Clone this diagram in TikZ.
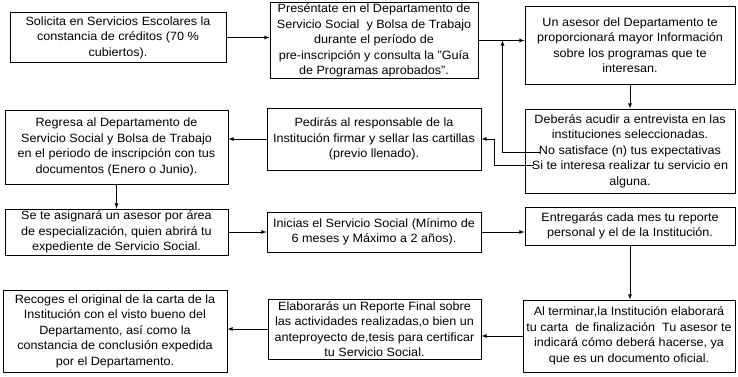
\documentclass[tikz,border=0pt]{standalone}
\usepackage{fontspec}
\setmainfont{Liberation Sans}[FakeStretch=1.05]
\usetikzlibrary{positioning}

\tikzset{
  paso/.style={draw, line width=0.9pt, align=center, inner sep=1.5pt,
    font=\fontsize{12}{15.5}\selectfont},
  flecha/.style={line width=0.8pt, ->, >=latex},
}

\begin{document}
\begin{tikzpicture}[x=1pt,y=-1pt]
  \useasboundingbox (0,0) rectangle (738,377);
  % primera fila
  \node[paso, minimum width=216pt, minimum height=50pt] (solicita) at (118,37.5)
    {Solicita en Servicios Escolares la\\ constancia de créditos (70 \%\\ cubiertos).};
  \node[paso, minimum width=208pt, minimum height=75pt] (presentate) at (374,40.5)
    {Preséntate en el Departamento de\\ Servicio Social\ \ y Bolsa de Trabajo\\
     durante el período de\\ pre-inscripción y consulta la "Guía\\ de Programas aprobados".};
  \node[paso, minimum width=210pt, minimum height=78pt] (asesor) at (630,45)
    {Un asesor del Departamento te\\ proporcionará mayor Información\\
     sobre los programas que te\\ interesan.};
  \node[paso, minimum width=210pt, minimum height=84pt] (entrevista) at (630,151)
    {Deberás acudir a entrevista en las\\ instituciones seleccionadas.\\
     No satisface (n) tus expectativas\\ Si te interesa realizar tu servicio en\\ alguna.};
  % segunda fila
  \node[paso, minimum width=223pt, minimum height=74pt] (regresa) at (116.5,147)
    {Regresa al Departamento de\\ Servicio Social y Bolsa de Trabajo\\
     en el periodo de inscripción con tus\\ documentos (Enero o Junio).};
  \node[paso, minimum width=214pt, minimum height=62pt] (pedir) at (374,139)
    {Pedirás al responsable de la\\ Institución firmar y sellar las cartillas\\ (previo llenado).};
  % tercera fila
  \node[paso, minimum width=223pt, minimum height=46pt] (area) at (116.5,232)
    {Se te asignará un asesor por área\\ de especialización, quien abrirá tu\\
     expediente de Servicio Social.};
  \node[paso, minimum width=214pt, minimum height=40pt] (inicias) at (374,232)
    {Inicias el Servicio Social (Mínimo de\\ 6 meses y Máximo a 2 años).};
  \node[paso, minimum width=210pt, minimum height=38pt] (reporte) at (630,226)
    {Entregarás cada mes tu reporte\\ personal y el de la Institución.};
  % cuarta fila
  \node[paso, minimum width=224pt, minimum height=82pt] (recoges) at (115,331)
    {Recoges el original de la carta de la\\ Institución con el visto bueno del\\
     Departamento, así como la\\ constancia de conclusión expedida\\ por el Departamento.};
  \node[paso, minimum width=213pt, minimum height=60pt] (final) at (374.5,329)
    {Elaborarás un Reporte Final sobre\\ las actividades realizadas,o bien un\\
     anteproyecto de,tesis para certificar\\ tu Servicio Social.};
  \node[paso, minimum width=212pt, minimum height=72pt] (carta) at (629,336)
    {Al terminar,la Institución elaborará\\ tu carta\ \ de finalización\ \ Tu asesor te\\
     indicará cómo deberá hacerse, ya\\ que es un documento oficial.};

  % conectores
  \draw[flecha] (solicita.east) -- (solicita.east -| presentate.west);
  \draw[flecha] (presentate.east) -- (presentate.east -| asesor.west);
  \draw[flecha] (asesor.south) -- (entrevista.north);
  \coordinate (nosat) at ([xshift=15pt,yshift=-1pt]entrevista.west);
  \coordinate (site) at ([xshift=9pt,yshift=-14pt]entrevista.west);
  \draw[flecha] (nosat) -- ++(-37,0) coordinate (codo) -- (codo |- presentate.east);
  \draw[flecha] (site) -- ++(-39,0) |- (pedir.east);
  \draw[flecha] (pedir.west) -- (pedir.west -| regresa.east);
  \draw[flecha] (regresa.south) -- (regresa.south |- area.north);
  \draw[flecha] (area.east) -- (area.east -| inicias.west);
  \draw[flecha] (inicias.east) -- (inicias.east -| reporte.west);
  \draw[flecha] (reporte.south) -- (reporte.south |- carta.north);
  \draw[flecha] (carta.west) -- (carta.west -| final.east);
  \draw[flecha] (final.west) -- (final.west -| recoges.east);
\end{tikzpicture}
\end{document}
